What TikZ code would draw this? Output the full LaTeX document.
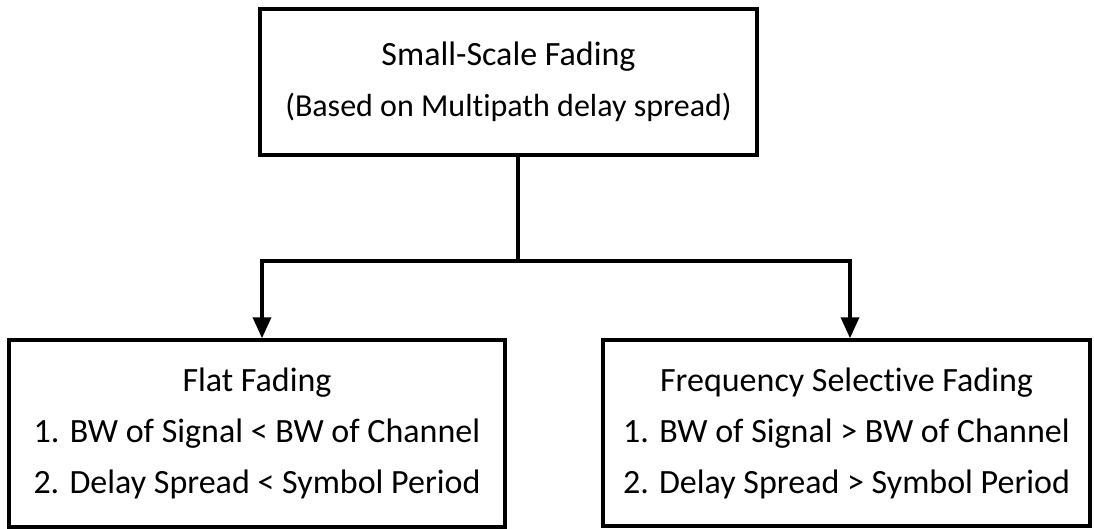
\documentclass[tikz,border=0pt]{standalone}
\usepackage{fontspec}
\setmainfont{Carlito}[Ligatures=NoCommon]
\usetikzlibrary{arrows.meta}
\begin{document}
\begin{tikzpicture}[x=1pt,y=-1pt,
  box/.style={draw, line width=3.5pt, inner sep=0pt, align=center,
    font=\fontsize{34}{51}\selectfont},
  link/.style={line width=3.5pt, line join=miter},
  tip/.style={-{Triangle[length=21pt,width=18pt]}, line width=3.5pt, line join=miter}]
\useasboundingbox (0,0) rectangle (1094,529);

% category boxes
\node[box, minimum width=497pt, minimum height=146pt] (top) at (508.5,82)
  {Small-Scale Fading\\{\fontsize{32}{51}\selectfont(Based on Multipath delay spread)}};
\node[box, minimum width=496pt, minimum height=187pt] (flat) at (257,433.5)
  {Flat Fading\\1. BW of Signal < BW of Channel\\2. Delay Spread < Symbol Period};
\node[box, minimum width=487pt, minimum height=186pt] (freq) at (846.5,433)
  {Frequency Selective Fading\\1. BW of Signal > BW of Channel\\2. Delay Spread > Symbol Period};

% branching connector
\coordinate (j) at (518,261);
\coordinate (jl) at (262,261);
\coordinate (jr) at (850,261);
\draw[link] (top.south -| j) -- (j);
\draw[tip] (j) -- (jl) -- (flat.north -| jl);
\draw[tip] (j) -- (jr) -- (freq.north -| jr);
\end{tikzpicture}
\end{document}
